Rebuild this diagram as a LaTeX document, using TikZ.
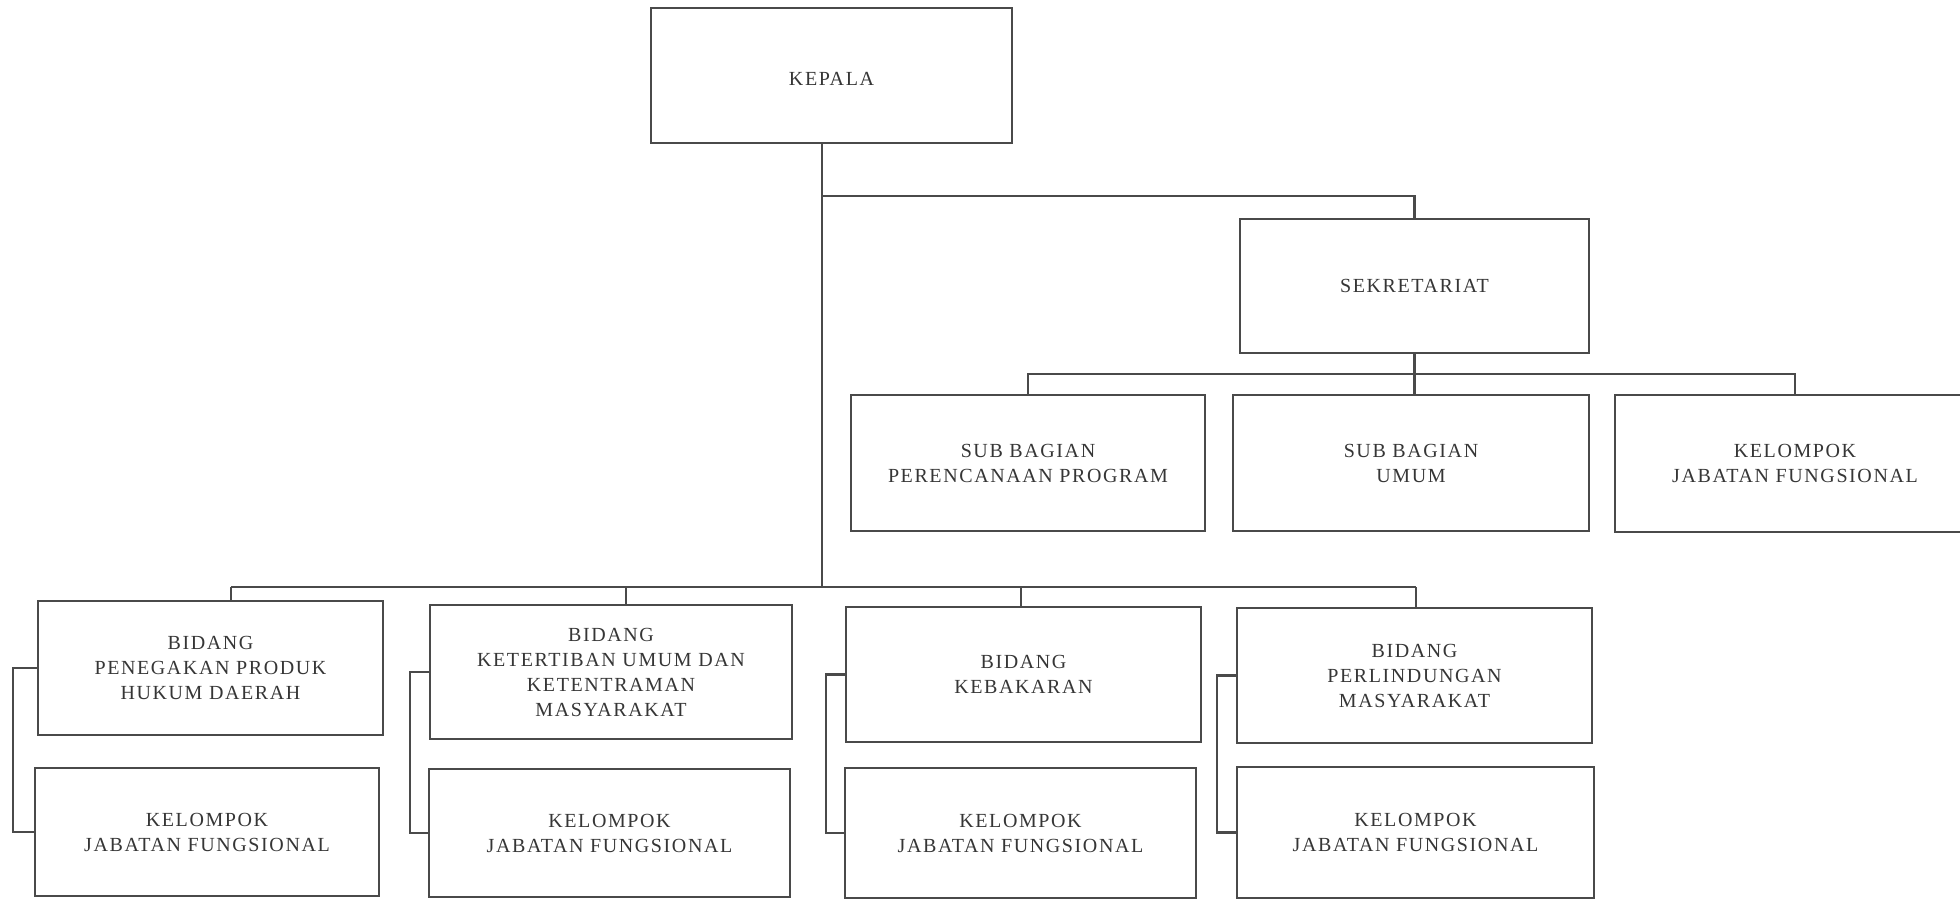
\documentclass[tikz,border=0pt]{standalone}
\usepackage{fontspec}
\newfontfamily\orgfont[LetterSpace=8]{Liberation Serif}
\definecolor{linec}{HTML}{4A4A4A}
\definecolor{textc}{HTML}{363636}
\begin{document}
\begin{tikzpicture}[x=0.5pt,y=-0.5pt,
  orgbox/.style={draw=linec, line width=1.3pt, inner sep=0pt, outer sep=0pt,
    align=center, text=textc, font=\orgfont\fontsize{10pt}{12.5pt}\selectfont},
  conn/.style={draw=linec, line width=1.3pt}]
\fill[white] (0,0) rectangle (1960,899);
\useasboundingbox (0,0) rectangle (1960,899);

% boxes
\node[orgbox, minimum width=180.5pt, minimum height=67.5pt, text height=10.5pt, text depth=0pt] (kepala) at (831.5,75.5) {KEPALA};
\node[orgbox, minimum width=174.5pt, minimum height=67pt] (sek) at (1414.5,286) {SEKRETARIAT};
\node[orgbox, minimum width=177pt, minimum height=68pt] (sub1) at (1028,463) {SUB BAGIAN\\PERENCANAAN PROGRAM};
\node[orgbox, minimum width=178pt, minimum height=68pt] (sub2) at (1411,463) {SUB BAGIAN\\UMUM};
\node[orgbox, minimum width=180pt, minimum height=68.5pt] (sub3) at (1795,463.5) {KELOMPOK\\JABATAN FUNGSIONAL};

\node[orgbox, minimum width=172.5pt, minimum height=67pt] (b1) at (210.5,668) {BIDANG\\PENEGAKAN PRODUK\\HUKUM DAERAH};
\node[orgbox, minimum width=172pt, minimum height=64pt] (k1) at (207,832) {KELOMPOK\\JABATAN FUNGSIONAL};
\node[orgbox, minimum width=181pt, minimum height=67pt] (b2) at (611,672) {BIDANG\\KETERTIBAN UMUM DAN\\KETENTRAMAN\\MASYARAKAT};
\node[orgbox, minimum width=180.5pt, minimum height=64pt] (k2) at (609.5,833) {KELOMPOK\\JABATAN FUNGSIONAL};
\node[orgbox, minimum width=177.5pt, minimum height=67.5pt] (b3) at (1023.5,674.5) {BIDANG\\KEBAKARAN};
\node[orgbox, minimum width=175.5pt, minimum height=65pt] (k3) at (1020.5,833) {KELOMPOK\\JABATAN FUNGSIONAL};
\node[orgbox, minimum width=177.5pt, minimum height=67.5pt] (b4) at (1414.5,675.5) {BIDANG\\PERLINDUNGAN\\MASYARAKAT};
\node[orgbox, minimum width=178.5pt, minimum height=65.5pt] (k4) at (1415.5,832.5) {KELOMPOK\\JABATAN FUNGSIONAL};

% junction coordinates
\coordinate (ts) at (822,196);
\coordinate (tk) at (822,587);
\coordinate (sbus) at (1412,374);
\coordinate (d1) at (231,587);
\coordinate (d2) at (626,587);
\coordinate (d3) at (1021,587);
\coordinate (d4) at (1416,587);
\coordinate (bx1) at (13,750);
\coordinate (bx2) at (410,750);
\coordinate (bx3) at (826,750);
\coordinate (bx4) at (1217,750);

% connectors
\draw[conn] (kepala.south -| tk) -- (tk);
\draw[conn] (ts) -| (sek.north);
\draw[conn] (sek.south) -- (sek.south |- sub2.north);
\draw[conn] (sub1.north) |- (sbus) -| (sub3.north);
\draw[conn] (d1) -- (d4);
\draw[conn] (d1) -- (d1 |- b1.north);
\draw[conn] (d2) -- (d2 |- b2.north);
\draw[conn] (d3) -- (d3 |- b3.north);
\draw[conn] (d4) -- (d4 |- b4.north);
\draw[conn] (b1.west) -| (bx1) |- (k1.west);
\draw[conn] (b2.west) -| (bx2) |- (k2.west);
\draw[conn] (b3.west) -| (bx3) |- (k3.west);
\draw[conn] (b4.west) -| (bx4) |- (k4.west);
\end{tikzpicture}
\end{document}
